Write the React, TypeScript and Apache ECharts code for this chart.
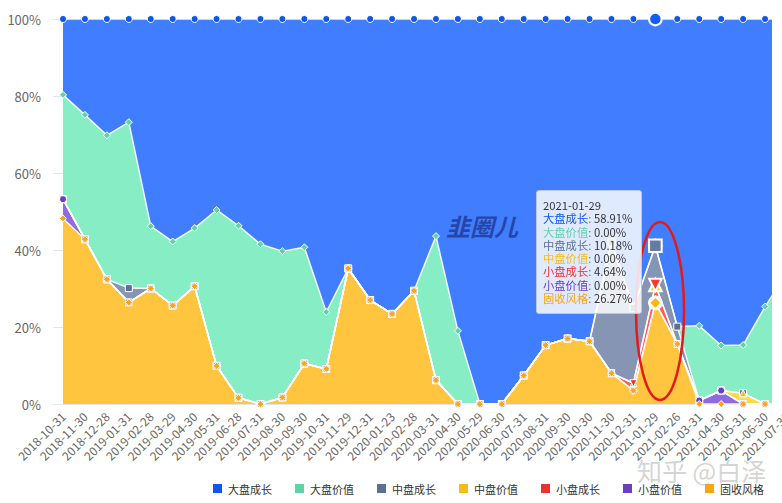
import React, { useEffect, useRef } from "react";
import * as echarts from "echarts";

const categories = [
  "2018-10-31", "2018-11-30", "2018-12-28", "2019-01-31", "2019-02-28", "2019-03-29",
  "2019-04-30", "2019-05-31", "2019-06-28", "2019-07-31", "2019-08-30", "2019-09-30",
  "2019-10-31", "2019-11-29", "2019-12-31", "2020-01-23", "2020-02-28", "2020-03-31",
  "2020-04-30", "2020-05-29", "2020-06-30", "2020-07-31", "2020-08-31", "2020-09-30",
  "2020-10-30", "2020-11-30", "2020-12-31", "2021-01-29", "2021-02-26", "2021-03-31",
  "2021-04-30", "2021-05-31", "2021-06-30", "2021-07-30",
];

const seriesNames = ["大盘成长", "大盘价值", "中盘成长", "中盘价值", "小盘成长", "小盘价值", "固收风格"];
const seriesColors = ["#0f55ee", "#5fd3a7", "#5d7092", "#f6bd16", "#f0302f", "#6a3fc4", "#fba60e"];
const seriesSymbols = ["circle", "diamond", "rect", "triangle", "triangle", "circle", "diamond"];
const seriesRotate = [0, 0, 0, 0, 180, 0, 0];

const largeGrowth = [19.7, 24.9, 30.2, 26.8, 53.8, 57.8, 54.3, 49.6, 53.7, 58.5, 60.3, 59.3, 76.1, 64.8, 73.0, 76.6, 70.6, 56.4, 81.0, 100, 100, 92.6, 84.7, 83.0, 83.7, 58.0, 75.0, 58.91, 79.9, 79.7, 84.8, 84.7, 74.7, 66.0];
const largeValue = [27.1, 32.3, 37.4, 43.1, 16.2, 16.6, 15.1, 40.5, 44.7, 41.5, 38.0, 30.2, 14.8, 0, 0, 0, 0, 37.4, 19.0, 0, 0, 0, 0, 0, 0, 0, 0, 0, 0, 19.4, 11.7, 12.5, 25.3, 34.0];
const midGrowth = [0, 0, 0, 3.7, 0, 0, 0, 0, 0, 0, 0, 0, 0, 0, 0, 0, 0, 0, 0, 0, 0, 0, 0, 0, 0, 34.0, 19.6, 10.18, 4.5, 0, 0, 0, 0, 0];
const midValue = [0, 0, 0, 0, 0, 0, 0, 0, 0, 0, 0, 0, 0, 0, 0, 0, 0, 0, 0, 0, 0, 0, 0, 0, 0, 0, 0, 0, 0, 0, 0, 2.8, 0, 0];
const smallGrowth = [0, 0, 0, 0, 0, 0, 0, 0, 0, 0, 0, 0, 0, 0, 0, 0, 0, 0, 0, 0, 0, 0, 0, 0, 0, 0, 1.9, 4.64, 0, 0, 0, 0, 0, 0];
const smallValue = [5.0, 0, 0, 0, 0, 0, 0, 0, 0, 0, 0, 0, 0, 0, 0, 0, 0, 0, 0, 0, 0, 0, 0, 0, 0, 0, 0, 0, 0, 0.9, 3.5, 0, 0, 0];
const fixedIncome = [48.2, 42.8, 32.4, 26.4, 30.0, 25.6, 30.6, 9.9, 1.6, 0, 1.7, 10.5, 9.1, 35.2, 27.0, 23.4, 29.4, 6.2, 0, 0, 0, 7.4, 15.3, 17.0, 16.3, 8.0, 3.5, 26.27, 15.6, 0, 0, 0, 0, 0];

const seriesData = [largeGrowth, largeValue, midGrowth, midValue, smallGrowth, smallValue, fixedIncome];
const yTicks = [0, 20, 40, 60, 80, 100];

const FONT = "'Noto Sans CJK SC', 'Noto Sans', sans-serif";

export default function App() {
  const ref = useRef<HTMLDivElement>(null);
  useEffect(() => {
    document.body.style.margin = "0";
    const chart = echarts.init(ref.current!, null, { renderer: "svg" });
    const option: any = {
      animation: false,
      textStyle: { fontFamily: FONT },
      color: seriesColors,
      grid: { left: 63, right: -5, top: 19, bottom: 99, outerBoundsMode: "none", containLabel: false },
      legend: {
        data: seriesNames,
        left: 211,
        top: 482,
        padding: 0,
        width: 570,
        icon: "rect",
        itemWidth: 11,
        itemHeight: 11,
        itemGap: 21,
        textStyle: { fontSize: 11, color: "#333", fontFamily: FONT },
      },
      tooltip: {
        trigger: "axis",
        triggerOn: "none",
        alwaysShowContent: true,
        transitionDuration: 0,
        axisPointer: { type: "line", lineStyle: { color: "rgba(0,0,0,0)", width: 0 } },
        position: () => [536, 190],
        backgroundColor: "rgba(255,255,255,0.84)",
        borderColor: "#b9c6e4",
        borderWidth: 1,
        borderRadius: 3,
        padding: [8, 8, 8, 6],
        extraCssText: "box-shadow:none;",
        formatter: (params: any[]) => {
          const head = `<div style="color:#333">${params[0].axisValue}</div>`;
          const rows = params
            .map(
              (p: any) =>
                `<div><span style="color:${seriesColors[p.seriesIndex]}">${p.seriesName}</span>: <span style="color:#333">${Number(p.value).toFixed(2)}%</span></div>`
            )
            .join("");
          return `<div style="font-size:11.3px;line-height:13.3px;font-family:${FONT}">${head}${rows}</div>`;
        },
      },
      xAxis: {
        type: "category",
        data: categories,
        boundaryGap: false,
        axisLine: { show: true, lineStyle: { color: "#e0e6f1" } },
        axisTick: { show: false },
        axisLabel: { rotate: 45, fontSize: 12, color: "#666", margin: 10, interval: 0 },
      },
      yAxis: {
        type: "value",
        min: yTicks[0],
        max: yTicks[yTicks.length - 1],
        interval: 20,
        axisLine: { show: false },
        axisTick: { show: true, length: 10, lineStyle: { color: "#e0e6f1" } },
        splitLine: { show: false },
        axisLabel: { formatter: "{value}%", fontSize: 13, color: "#666", margin: 22 },
      },
      series: seriesNames.map((name, i) => ({
        name,
        type: "line",
        stack: "total",
        stackOrder: "seriesDesc",
        data: seriesData[i],
        symbol: seriesSymbols[i],
        symbolRotate: seriesRotate[i],
        symbolSize: 7,
        showAllSymbol: true,
        itemStyle: { color: seriesColors[i], borderColor: "#fff", borderWidth: 1 },
        lineStyle: { color: "#fff", width: 1.5, opacity: 0.9 },
        areaStyle: { color: seriesColors[i], opacity: 0.8 },
        emphasis: { scale: 1.8, itemStyle: { borderWidth: 2, borderColor: "#fff" } },
      })),
      graphic: {
        elements: [
          {
            type: "text",
            x: 446,
            y: 213,
            style: {
              text: "韭圈儿",
              fontSize: 24,
              fontStyle: "italic",
              fontWeight: "bold",
              fill: "rgba(28,52,140,0.75)",
              fontFamily: FONT,
            },
            z: 100,
          },
          {
            type: "ellipse",
            shape: { cx: 660, cy: 311, rx: 24, ry: 89 },
            style: { fill: "none", stroke: "#e3191c", lineWidth: 2.5 },
            z: 100,
          },
          {
            type: "text",
            x: 637,
            y: 457,
            style: {
              text: "知乎 @白泽",
              fontSize: 25,
              fill: "rgba(170,170,170,0.5)",
              fontFamily: FONT,
            },
            z: 100,
          },
        ],
      },
    };
    chart.setOption(option);
    chart.dispatchAction({ type: "showTip", seriesIndex: 0, dataIndex: 27 });
    return () => chart.dispose();
  }, []);
  return (
    <div style={{ position: "relative", width: 782, height: 503 }}>
      <div ref={ref} style={{ width: 782, height: 503 }} />
      <div
        style={{
          position: "absolute",
          left: 772,
          top: 0,
          width: 10,
          height: 406,
          background: "#fff",
          pointerEvents: "none",
        }}
      />
    </div>
  );
}
